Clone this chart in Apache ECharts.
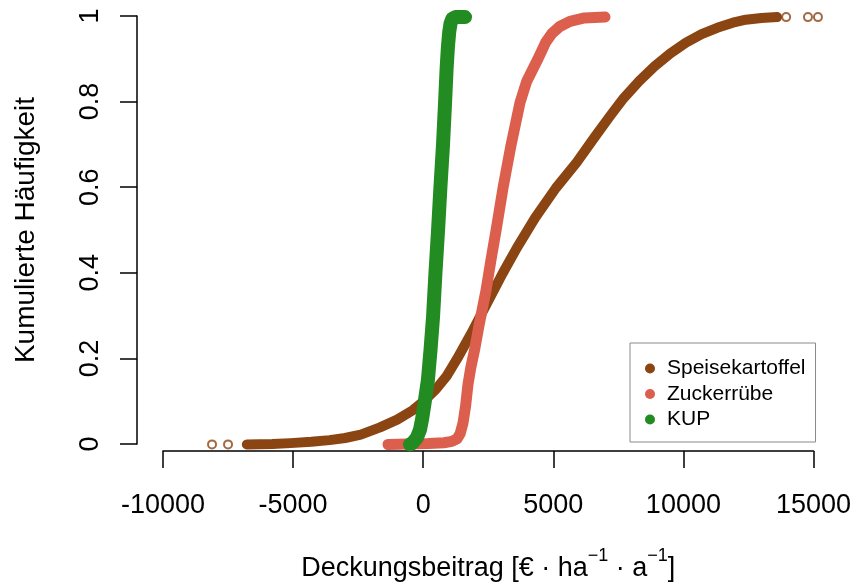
<!DOCTYPE html>
<html><head><meta charset="utf-8">
<script src="https://cdn.jsdelivr.net/npm/echarts@6/dist/echarts.min.js"></script>
<style>html,body{margin:0;padding:0;background:#fff}#c{width:856px;height:587px}</style>
</head><body><div id="c"></div>
<script>
// ---- data ----
const seriesNames = ['Speisekartoffel', 'Zuckerrübe', 'KUP'];
const brownX = [-6780, -5800, -5100, -4300, -3600, -3000, -2400, -1660, -1000, -400, 0, 500, 900, 1300, 1850, 2450, 3050, 3600, 4300, 5100, 5900, 6600, 7200, 7700, 8300, 8900, 9500, 10100, 10700, 11300, 11900, 12400, 13000, 13600];
const brownY = [0, 0.001, 0.003, 0.006, 0.01, 0.015, 0.023, 0.04, 0.058, 0.08, 0.1, 0.13, 0.16, 0.2, 0.26, 0.33, 0.4, 0.46, 0.53, 0.6, 0.66, 0.72, 0.77, 0.81, 0.85, 0.885, 0.915, 0.94, 0.96, 0.975, 0.987, 0.994, 0.998, 1];
const brownOutX = [-8116, -7501, 13950, 14788, 15172];
const brownOutY = [0, 0, 1, 1, 1];
const sugarX = [-1353, -600, 200, 800, 1100, 1300, 1420, 1530, 1630, 1720, 1830, 1970, 2150, 2413, 2600, 2798, 3067, 3374, 3720, 3980, 4393, 4700, 4950, 5250, 5641, 6200, 6987];
const sugarY = [0, 0.001, 0.002, 0.004, 0.007, 0.013, 0.025, 0.05, 0.09, 0.14, 0.18, 0.22, 0.28, 0.36, 0.43, 0.5, 0.6, 0.7, 0.8, 0.85, 0.9, 0.94, 0.962, 0.978, 0.99, 0.998, 1];
const kupX = [-510, -400, -240, -120, -40, 60, 180, 280, 380, 470, 570, 660, 760, 840, 900, 950, 1000, 1050, 1120, 1250, 1607];
const kupY = [0, 0.004, 0.016, 0.035, 0.06, 0.1, 0.15, 0.22, 0.3, 0.4, 0.5, 0.6, 0.7, 0.8, 0.88, 0.93, 0.965, 0.985, 0.996, 1, 1];
const xTicks = {min: -10000, max: 15000, step: 5000};
const yTicks = {min: 0, max: 1, step: 0.2};
const xTitleParts = ['Deckungsbeitrag [€ · ha', '−1', ' · a', '−1', ']'];
const yTitle = 'Kumulierte Häufigkeit';
const colors = ['#8B4513', '#DC5F4E', '#228B22'];

const zip = (xs, ys) => xs.map((x, i) => [x, ys[i]]);
const F = 'Liberation Sans, Arial, sans-serif';
const FS = 27;

const chart = echarts.init(document.getElementById('c'), null, {renderer: 'canvas'});
chart.setOption({
  animation: false,
  backgroundColor: '#fff',
  grid: [
    {left: 137, right: 16.5, top: -1, bottom: 125.5},
    {left: 163, right: 42.5, top: 0, bottom: 125.5},
    {left: 137, right: 16.5, top: 16, bottom: 143}
  ],
  xAxis: [
    {gridIndex: 0, type: 'value', min: -11000, max: 16000, show: false},
    {gridIndex: 1, type: 'value', min: xTicks.min, max: xTicks.max, interval: xTicks.step,
     axisLine: {show: true, onZero: false, lineStyle: {color: '#000', width: 1.5}},
     axisTick: {show: true, length: 17, lineStyle: {color: '#000', width: 1.5}},
     axisLabel: {show: true, color: '#000', fontSize: FS, fontFamily: F, margin: 41,
       formatter: v => String(v)},
     splitLine: {show: false},
     name: xTitleParts.map((p, i) => i % 2 ? '{s|' + p + '}' : '{n|' + p + '}').join(''),
     nameLocation: 'middle', nameGap: 96,
     nameTextStyle: {color: '#000', fontFamily: F, fontSize: FS,
       rich: {n: {fontSize: FS, fontFamily: F, color: '#000', lineHeight: 35, verticalAlign: 'bottom'},
              s: {fontSize: 18, fontFamily: F, color: '#000', lineHeight: 18, verticalAlign: 'top'}}}},
    {gridIndex: 2, type: 'value', min: 0, max: 1, show: false}
  ],
  yAxis: [
    {gridIndex: 0, type: 'value', min: -0.04, max: 1.04, show: false},
    {gridIndex: 1, type: 'value', min: 0, max: 1, show: false},
    {gridIndex: 2, type: 'value', min: yTicks.min, max: yTicks.max, interval: yTicks.step,
     axisLine: {show: true, onZero: false, lineStyle: {color: '#000', width: 1.5}},
     axisTick: {show: true, length: 17, lineStyle: {color: '#000', width: 1.5}},
     axisLabel: {show: true, color: '#000', fontSize: FS, fontFamily: F, margin: 33, rotate: 90},
     splitLine: {show: false},
     name: yTitle, nameLocation: 'middle', nameGap: 97, nameRotate: 90,
     nameTextStyle: {color: '#000', fontFamily: F, fontSize: 28}}
  ],
  legend: {
    orient: 'vertical', left: 630, top: 343,
    padding: [15, 10, 12, 15], itemGap: 4.5, itemWidth: 10, itemHeight: 10,
    borderColor: '#8a8a8a', borderWidth: 1, backgroundColor: '#fff',
    textStyle: {color: '#000', fontSize: 21, fontFamily: F, lineHeight: 20, padding: [0, 0, 0, 7]},
    data: seriesNames.map((n, i) => ({name: n, icon: 'circle', itemStyle: {color: colors[i], borderWidth: 0}}))
  },
  series: [
    {name: seriesNames[0], type: 'line', xAxisIndex: 0, yAxisIndex: 0, data: zip(brownX, brownY),
     smooth: false, showSymbol: false, color: colors[0],
     lineStyle: {width: 10, color: colors[0], cap: 'round', join: 'round'}, z: 2},
    {name: seriesNames[0], type: 'scatter', xAxisIndex: 0, yAxisIndex: 0, data: zip(brownOutX, brownOutY),
     symbol: 'circle', symbolSize: 8, itemStyle: {color: '#fff', borderColor: colors[0], borderWidth: 2}, z: 2},
    {name: seriesNames[1], type: 'line', xAxisIndex: 0, yAxisIndex: 0, data: zip(sugarX, sugarY),
     smooth: false, showSymbol: false, color: colors[1],
     lineStyle: {width: 11, color: colors[1], cap: 'round', join: 'round'}, z: 3},
    {name: seriesNames[2], type: 'line', xAxisIndex: 0, yAxisIndex: 0, data: zip(kupX, kupY),
     smooth: false, showSymbol: false, color: colors[2],
     lineStyle: {width: 14, color: colors[2], cap: 'round', join: 'round'}, z: 4}
  ]
});
</script></body></html>
